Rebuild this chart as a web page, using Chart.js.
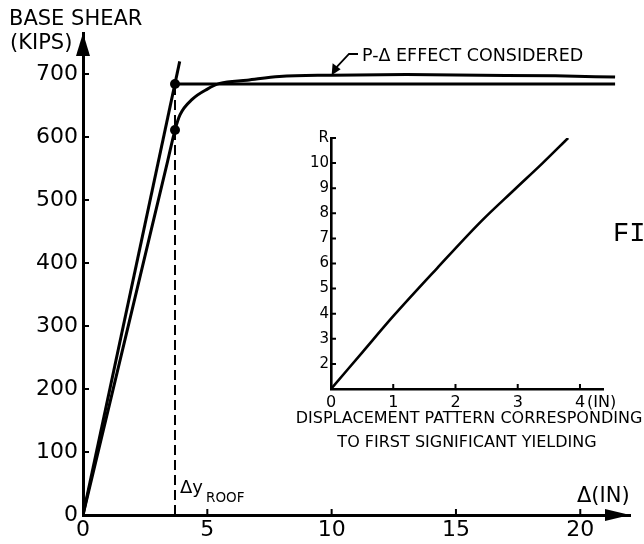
<!DOCTYPE html>
<html>
<head>
<meta charset="utf-8">
<script src="https://cdn.jsdelivr.net/npm/chart.js@4.4.1/dist/chart.umd.min.js"></script>
<style>
  html, body { margin: 0; padding: 0; background: #fff; }
  #wrap { position: relative; width: 644px; height: 544px; overflow: hidden; }
  #main { position: absolute; left: 0; top: 0; }
  #inset { position: absolute; left: 290px; top: 120px; }
</style>
</head>
<body>
<div id="wrap">
  <canvas id="main" width="644" height="544"></canvas>
  <canvas id="inset" width="354" height="340"></canvas>
</div>
<script>
// Base shear vs roof displacement (kips / in)
const elasticDisp = [0, 3.89];
const elasticShear = [0, 720];
const plateauDisp = [3.7, 21.4];
const plateauShear = [684, 684];
const curveDisp = [0, 3.4, 3.7, 3.9, 4.4, 5.0, 5.5, 6.6, 7.9, 10, 13, 16, 19, 21.4];
const curveShear = [0, 561, 611, 635, 660, 676, 685, 690, 696, 698, 699, 698, 697, 695];
const yieldDisp = 3.7;
const yieldShears = [684, 611];
const shearTicks = [0, 100, 200, 300, 400, 500, 600, 700];
const shearLabels = ['0', '100', '200', '300', '400', '500', '600', '700'];
const dispTicks = [0, 5, 10, 15, 20];

// Displacement pattern at first significant yielding (level R vs in)
const patternDisp = [0, 0.5, 1.0, 1.7, 2.4, 2.95, 3.4, 3.81];
const patternLevel = [1, 2.45, 3.9, 5.8, 7.65, 8.95, 10.0, 11.0];
const levelTicks = [1, 2, 3, 4, 5, 6, 7, 8, 9, 10, 11];
const levelLabels = ['', '2', '3', '4', '5', '6', '7', '8', '9', '10', 'R'];
const patternTicks = [0, 1, 2, 3, 4];

const FONT = "'DejaVu Sans', sans-serif";
const INK = '#000';

function pts(xs, ys) {
    return xs.map((x, i) => ({ x: x, y: ys[i] }));
}

function line(data, width, extra) {
    return Object.assign({
        data: data,
        showLine: true,
        borderColor: INK,
        borderWidth: width,
        pointRadius: 0,
        fill: false
    }, extra || {});
}

// short tick marks drawn on the inside of both axes
const innerTicks = {
    id: 'innerTicks',
    afterDatasetsDraw(chart, args, opts) {
        const { ctx, scales: { x, y } } = chart;
        ctx.save();
        ctx.strokeStyle = INK;
        ctx.lineWidth = opts.width;
        ctx.beginPath();
        x.ticks.forEach(t => {
            if (t.value === x.min) return;
            const px = x.getPixelForValue(t.value);
            ctx.moveTo(px, y.bottom);
            ctx.lineTo(px, y.bottom - opts.len);
        });
        y.ticks.forEach(t => {
            if (t.value === y.min) return;
            const py = y.getPixelForValue(t.value);
            ctx.moveTo(x.left, py);
            ctx.lineTo(x.left + opts.len, py);
        });
        ctx.stroke();
        ctx.restore();
    }
};

function triangle(ctx, a, b, c) {
    ctx.beginPath();
    ctx.moveTo(a[0], a[1]);
    ctx.lineTo(b[0], b[1]);
    ctx.lineTo(c[0], c[1]);
    ctx.closePath();
    ctx.fill();
}

// arrow heads, leader and lettering of the main plot
const mainDecor = {
    id: 'mainDecor',
    afterDraw(chart) {
        const { ctx, chartArea: a, scales: { x, y } } = chart;
        ctx.save();
        ctx.fillStyle = INK;
        ctx.strokeStyle = INK;

        triangle(ctx, [a.left, a.top], [a.left - 7, a.top + 23], [a.left + 7, a.top + 23]);
        triangle(ctx, [a.right, a.bottom], [a.right - 25, a.bottom - 6], [a.right - 25, a.bottom + 6]);

        ctx.font = '21px ' + FONT;
        ctx.textBaseline = 'alphabetic';
        ctx.fillText('BASE SHEAR', 9, 25);
        ctx.fillText('(KIPS)', 10, 49);

        ctx.font = '17.5px ' + FONT;
        ctx.fillText('P-\u0394 EFFECT CONSIDERED', 362, 61);

        // leader to the upper curve
        const tx = x.getPixelForValue(10), ty = y.getPixelForValue(698);
        ctx.lineWidth = 1.8;
        ctx.beginPath();
        ctx.moveTo(358, 54);
        ctx.lineTo(349, 54);
        ctx.lineTo(tx + 5, ty - 8);
        ctx.stroke();
        triangle(ctx, [tx, ty], [tx + 1, ty - 12], [tx + 9, ty - 6]);

        const dx = x.getPixelForValue(yieldDisp);
        ctx.font = '18px ' + FONT;
        ctx.fillText('\u0394y', dx + 5, 493);
        ctx.font = '13.5px ' + FONT;
        ctx.fillText('ROOF', dx + 31, 502);

        ctx.font = '21px ' + FONT;
        ctx.fillText('\u0394(IN)', 577, 502);

        ctx.font = '27px "Liberation Mono", monospace';
        ctx.fillText('FI', 613, 241);
        ctx.restore();
    }
};

new Chart(document.getElementById('main'), {
    type: 'scatter',
    data: {
        datasets: [
            line(pts(elasticDisp, elasticShear), 3),
            line(pts(plateauDisp, plateauShear), 3),
            line(pts(curveDisp, curveShear), 3, { cubicInterpolationMode: 'monotone' }),
            line(pts([yieldDisp, yieldDisp], [0, yieldShears[0]]), 2, { borderDash: [10, 5] }),
            {
                data: pts([yieldDisp, yieldDisp], yieldShears),
                showLine: false,
                pointRadius: 5,
                pointBackgroundColor: INK,
                pointBorderColor: INK,
                pointBorderWidth: 0
            }
        ]
    },
    options: {
        responsive: false,
        animation: false,
        devicePixelRatio: 1,
        layout: { padding: { top: 33, right: 14, left: 0, bottom: 0 } },
        plugins: {
            legend: { display: false },
            tooltip: { enabled: false },
            innerTicks: { width: 2, len: 6 }
        },
        scales: {
            x: {
                type: 'linear',
                min: 0,
                max: 22,
                afterBuildTicks: s => { s.ticks = dispTicks.map(v => ({ value: v })); },
                afterFit: s => { s.height = 29; },
                grid: { display: false, drawTicks: false },
                border: { color: INK, width: 3 },
                ticks: { color: INK, font: { family: FONT, size: 22 }, padding: 2, maxRotation: 0, autoSkip: false }
            },
            y: {
                type: 'linear',
                min: 0,
                max: 765,
                afterBuildTicks: s => { s.ticks = shearTicks.map(v => ({ value: v })); },
                afterFit: s => { s.width = 83; },
                grid: { display: false, drawTicks: false },
                border: { color: INK, width: 3 },
                ticks: {
                    color: INK,
                    font: { family: FONT, size: 22 },
                    padding: 5,
                    autoSkip: false,
                    callback: v => shearLabels[shearTicks.indexOf(v)]
                }
            }
        }
    },
    plugins: [innerTicks, mainDecor]
});

// caption and unit of the inset
const insetDecor = {
    id: 'insetDecor',
    afterDraw(chart) {
        const { ctx, scales: { x } } = chart;
        ctx.save();
        ctx.fillStyle = INK;
        ctx.font = '16px ' + FONT;
        ctx.textBaseline = 'alphabetic';
        ctx.fillText('(IN)', x.getPixelForValue(4) + 7, 287);
        ctx.font = '16px ' + FONT;
        ctx.textAlign = 'center';
        const cx = (x.left + x.right) / 2;
        ctx.fillText('DISPLACEMENT PATTERN CORRESPONDING', cx + 2, 303);
        ctx.fillText('TO FIRST SIGNIFICANT YIELDING', cx, 327);
        ctx.restore();
    }
};

new Chart(document.getElementById('inset'), {
    type: 'scatter',
    data: {
        datasets: [line(pts(patternDisp, patternLevel), 2.6, { cubicInterpolationMode: 'monotone' })]
    },
    options: {
        responsive: false,
        animation: false,
        devicePixelRatio: 1,
        layout: { padding: { top: 18, right: 41, left: 0, bottom: 0 } },
        plugins: {
            legend: { display: false },
            tooltip: { enabled: false },
            innerTicks: { width: 2, len: 5 }
        },
        scales: {
            x: {
                type: 'linear',
                min: 0,
                max: 4.37,
                afterBuildTicks: s => { s.ticks = patternTicks.map(v => ({ value: v })); },
                afterFit: s => { s.height = 71; },
                grid: { display: false, drawTicks: false },
                border: { color: INK, width: 2.6 },
                ticks: { color: INK, font: { family: FONT, size: 16 }, padding: 4, maxRotation: 0, autoSkip: false }
            },
            y: {
                type: 'linear',
                min: 1,
                max: 11,
                afterBuildTicks: s => { s.ticks = levelTicks.map(v => ({ value: v })); },
                afterFit: s => { s.width = 41; },
                grid: { display: false, drawTicks: false },
                border: { color: INK, width: 2.6 },
                ticks: {
                    color: INK,
                    font: { family: FONT, size: 15 },
                    padding: 2,
                    autoSkip: false,
                    callback: v => levelLabels[levelTicks.indexOf(v)]
                }
            }
        }
    },
    plugins: [innerTicks, insetDecor]
});
</script>
</body>
</html>
